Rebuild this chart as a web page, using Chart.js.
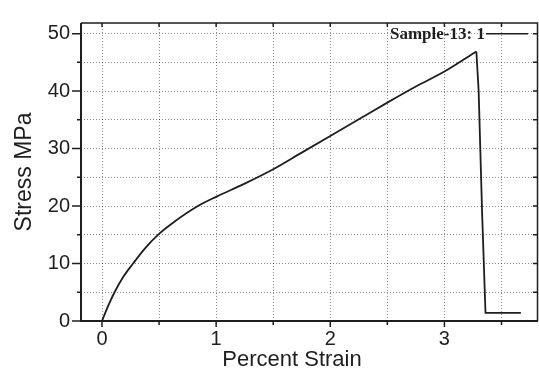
<!DOCTYPE html>
<html>
<head>
<meta charset="utf-8">
<script src="https://cdn.jsdelivr.net/npm/chart.js@4"></script>
<style>
  html, body { margin: 0; padding: 0; background: #fff; }
  #wrap { width: 539px; height: 376px; }
</style>
</head>
<body>
<div id="wrap"><canvas id="c" width="539" height="376"></canvas></div>
<script>
// ---- data ----
const seriesLabel = 'Sample-13: 1';
const strain = [0, 0.053, 0.11, 0.184, 0.272, 0.375, 0.49, 0.636, 0.84, 1.0, 1.25, 1.5, 1.75, 2.0, 2.25, 2.5, 2.75, 3.0, 3.28, 3.30, 3.33, 3.36, 3.5, 3.67];
const stress = [0, 2.6, 5, 7.6, 10, 12.6, 15, 17.3, 20, 21.6, 23.9, 26.4, 29.3, 32.2, 35.1, 38.0, 40.8, 43.4, 46.9, 40, 19, 1.4, 1.4, 1.4];
const xTitle = 'Percent Strain';
const yTitle = 'Stress MPa';

const points = strain.map((s, i) => ({ x: s, y: stress[i] }));
const peak = stress.indexOf(Math.max(...stress));
const loading = points.slice(0, peak + 1);   // smooth rising part
const fracture = points.slice(peak);         // sharp drop after break

const INK = '#1e1e1e';

const frameAndExtras = {
  id: 'frameAndExtras',
  afterDraw(chart) {
    const { ctx, chartArea: a, scales: { x, y } } = chart;
    ctx.save();
    ctx.strokeStyle = INK;
    // frame
    ctx.lineWidth = 1.5;
    ctx.beginPath();
    ctx.moveTo(a.left, a.top); ctx.lineTo(a.right - 0.5, a.top); ctx.lineTo(a.right - 0.5, a.bottom);
    ctx.stroke();
    ctx.lineWidth = 2;
    ctx.beginPath();
    ctx.moveTo(a.left, a.top); ctx.lineTo(a.left, a.bottom); ctx.lineTo(a.right, a.bottom);
    ctx.stroke();
    // tick marks
    ctx.lineWidth = 1.5;
    y.ticks.forEach(t => {
      const p = y.getPixelForValue(t.value);
      const major = Math.abs(t.value % 10) < 1e-9;
      ctx.beginPath();
      ctx.moveTo(a.left - (major ? 9 : 4), p); ctx.lineTo(a.left, p);
      ctx.moveTo(a.right, p); ctx.lineTo(a.right - 5, p);
      ctx.stroke();
    });
    x.ticks.forEach(t => {
      const p = x.getPixelForValue(t.value);
      const major = Math.abs(t.value % 1) < 1e-9;
      ctx.beginPath();
      ctx.moveTo(p, a.bottom); ctx.lineTo(p, a.bottom + (major ? 6 : 4));
      ctx.moveTo(p, a.top); ctx.lineTo(p, a.top + 4);
      ctx.stroke();
    });
    // x axis title
    ctx.fillStyle = INK;
    ctx.font = '22px "Liberation Sans", Arial, sans-serif';
    ctx.textAlign = 'center';
    ctx.textBaseline = 'middle';
    ctx.fillText(xTitle, 292, 360);
    // in-plot legend
    const ly = y.getPixelForValue(50);
    ctx.font = 'bold 17px "Liberation Serif", "Times New Roman", serif';
    ctx.textAlign = 'left';
    ctx.fillText(chart.data.datasets[0].label, 390, ly + 1);
    ctx.lineWidth = 1.5;
    ctx.beginPath();
    ctx.moveTo(486, ly); ctx.lineTo(a.right - 10, ly);
    ctx.stroke();
    ctx.restore();
  }
};

new Chart(document.getElementById('c'), {
  type: 'scatter',
  data: {
    datasets: [{
      label: seriesLabel,
      data: loading,
      showLine: true,
      borderColor: INK,
      borderWidth: 1.8,
      pointRadius: 0,
      cubicInterpolationMode: 'monotone',
      fill: false
    }, {
      label: seriesLabel,
      data: fracture,
      showLine: true,
      borderColor: INK,
      borderWidth: 1.8,
      pointRadius: 0,
      tension: 0,
      fill: false
    }]
  },
  options: {
    responsive: false,
    animation: false,
    devicePixelRatio: 1,
    layout: { padding: { top: 14, right: 1, left: 0, bottom: 0 } },
    plugins: { legend: { display: false }, tooltip: { enabled: false } },
    scales: {
      x: {
        type: 'linear',
        min: -0.184,
        max: 3.82,
        afterFit: s => { s.height = 55; },
        ticks: {
          stepSize: 0.5,
          includeBounds: false,
          padding: 6,
          color: INK,
          font: { family: '"Liberation Sans", Arial, sans-serif', size: 20 },
          callback: v => (Math.abs(v % 1) < 1e-9 ? String(v) : '')
        },
        grid: { color: 'rgba(0,0,0,0.45)', lineWidth: 1, drawTicks: false },
        border: { display: false, dash: [1, 2] },
        title: { display: false }
      },
      y: {
        type: 'linear',
        min: 0,
        max: 51.85,
        afterFit: s => { s.width = 81; },
        ticks: {
          stepSize: 5,
          includeBounds: false,
          padding: 11,
          color: INK,
          font: { family: '"Liberation Sans", Arial, sans-serif', size: 20 },
          callback: v => (Math.abs(v % 10) < 1e-9 ? String(v) : '')
        },
        grid: { color: 'rgba(0,0,0,0.45)', lineWidth: 1, drawTicks: false },
        border: { display: false, dash: [1, 2] },
        title: {
          display: true,
          text: yTitle,
          color: INK,
          font: { family: '"Liberation Sans", Arial, sans-serif', size: 23 },
          padding: { top: 11, bottom: 0 }
        }
      }
    }
  },
  plugins: [frameAndExtras]
});
</script>
</body>
</html>
